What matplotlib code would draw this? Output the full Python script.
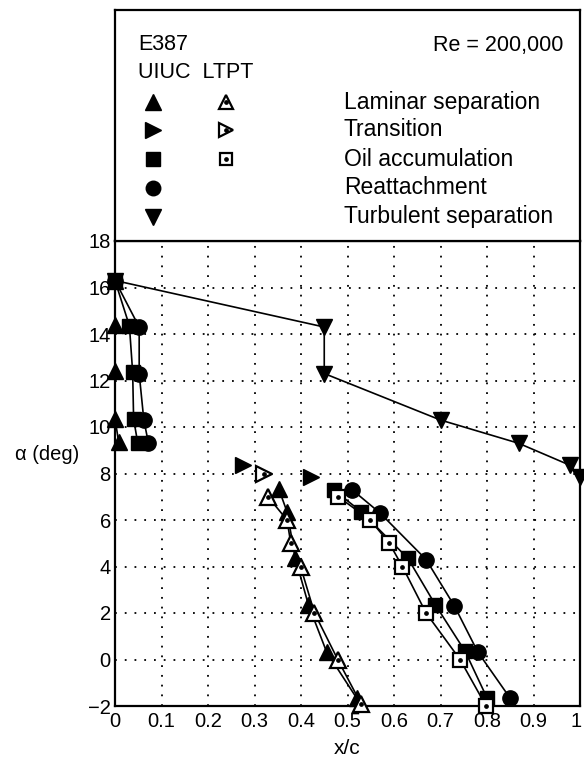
import matplotlib
matplotlib.use("Agg")
import matplotlib.pyplot as plt
import matplotlib.transforms as mtransforms

plt.rcParams["font.family"] = ["Liberation Sans", "DejaVu Sans"]
plt.rcParams["axes.unicode_minus"] = True

# UIUC (filled) and LTPT (open, dotted) measurements, x/c vs alpha
lam_uiuc_hi_x = [0.0, 0.0, 0.0, 0.0, 0.008]
lam_uiuc_hi_a = [16.3, 14.4, 12.4, 10.35, 9.35]
lam_uiuc_lo_x = [0.352, 0.370, 0.388, 0.416, 0.455, 0.520]
lam_uiuc_lo_a = [7.35, 6.35, 4.35, 2.35, 0.33, -1.67]
lam_ltpt_x = [0.329, 0.370, 0.378, 0.399, 0.429, 0.479, 0.529]
lam_ltpt_a = [7.0, 6.0, 5.0, 4.0, 2.0, 0.0, -1.9]

tr_uiuc_x = [0.275, 0.421]
tr_uiuc_a = [8.35, 7.85]
tr_ltpt_x = [0.320]
tr_ltpt_a = [8.0]

oil_uiuc_hi_x = [0.0, 0.031, 0.038, 0.040, 0.049]
oil_uiuc_hi_a = [16.3, 14.35, 12.35, 10.35, 9.3]
oil_uiuc_lo_x = [0.470, 0.530, 0.630, 0.689, 0.753, 0.800]
oil_uiuc_lo_a = [7.3, 6.35, 4.35, 2.35, 0.35, -1.65]
oil_ltpt_x = [0.480, 0.549, 0.590, 0.618, 0.669, 0.742, 0.798]
oil_ltpt_a = [7.0, 6.0, 5.0, 4.0, 2.0, 0.0, -2.0]

re_uiuc_hi_x = [0.0, 0.052, 0.052, 0.062, 0.072]
re_uiuc_hi_a = [16.3, 14.3, 12.3, 10.3, 9.3]
re_uiuc_lo_x = [0.510, 0.570, 0.669, 0.730, 0.780, 0.850]
re_uiuc_lo_a = [7.3, 6.3, 4.3, 2.3, 0.33, -1.67]

ts_uiuc_x = [0.0, 0.45, 0.45, 0.70, 0.868, 0.979, 1.0]
ts_uiuc_a = [16.3, 14.3, 12.3, 10.3, 9.3, 8.35, 7.85]

xticks = [0, 0.1, 0.2, 0.3, 0.4, 0.5, 0.6, 0.7, 0.8, 0.9, 1]
xticklabels = ["0", "0.1", "0.2", "0.3", "0.4", "0.5", "0.6", "0.7", "0.8", "0.9", "1"]
yticks = [-2, 0, 2, 4, 6, 8, 10, 12, 14, 16, 18]

legend_rows = ["Laminar separation", "Transition", "Oil accumulation",
               "Reattachment", "Turbulent separation"]

fig = plt.figure(figsize=(5.84, 7.61), dpi=100)
ax = fig.add_axes([115 / 584, 55 / 761, 465 / 584, 465 / 761])
lax = fig.add_axes([115 / 584, 520 / 761, 465 / 584, 231 / 761])

LW = 1.2


def filled(x, a, marker, ms, line=True):
    ax.plot(x, a, color="black", lw=LW if line else 0, marker=marker, ms=ms,
            mfc="black", mec="black", clip_on=False, zorder=4)


def hollow(x, a, marker, ms, line=True):
    ax.plot(x, a, color="black", lw=LW if line else 0, marker=marker, ms=ms,
            mfc="white", mec="black", mew=1.6, clip_on=False, zorder=5)
    ax.plot(x, a, lw=0, marker="o", ms=2.4, mfc="black", mec="black",
            clip_on=False, zorder=6)


filled(lam_uiuc_hi_x, lam_uiuc_hi_a, "^", 12)
filled(lam_uiuc_lo_x, lam_uiuc_lo_a, "^", 12)
filled(oil_uiuc_hi_x, oil_uiuc_hi_a, "s", 10)
filled(oil_uiuc_lo_x, oil_uiuc_lo_a, "s", 10)
filled(re_uiuc_hi_x, re_uiuc_hi_a, "o", 11)
filled(re_uiuc_lo_x, re_uiuc_lo_a, "o", 11)
filled(ts_uiuc_x, ts_uiuc_a, "v", 12)
filled(tr_uiuc_x, tr_uiuc_a, ">", 12, line=False)
hollow(lam_ltpt_x, lam_ltpt_a, "^", 12)
hollow(oil_ltpt_x, oil_ltpt_a, "s", 10)
hollow(tr_ltpt_x, tr_ltpt_a, ">", 12, line=False)

ax.set_xlim(0, 1)
ax.set_ylim(-2, 18)
ax.set_xticks(xticks)
ax.set_xticklabels(xticklabels)
ax.set_yticks(yticks)
ax.set_yticklabels([str(v).replace("-", "\u2212") for v in yticks])
ax.tick_params(length=0, labelsize=14.5, pad=4)
ax.tick_params(axis="y", pad=3)
# keep the last x label inside the canvas
last = ax.get_xticklabels()[-1]
last.set_transform(last.get_transform()
                   + mtransforms.ScaledTranslation(-4 / 100, 0, fig.dpi_scale_trans))
ax.grid(True, color="black", linestyle=(0, (1.0, 4.4)), linewidth=1.3)
for s in ax.spines.values():
    s.set_linewidth(1.6)
ax.set_xlabel("x/c", fontsize=15, labelpad=6)
fig.text(47 / 584, 1 - 455 / 761, "\u03b1 (deg)", fontsize=14.5,
         ha="center", va="center")

# legend panel, in pixel-like coordinates
lax.set_xlim(0, 465)
lax.set_ylim(231, 0)
lax.set_xticks([])
lax.set_yticks([])
for s in lax.spines.values():
    s.set_linewidth(1.6)
lax.text(23, 35, "E387", fontsize=15.5, va="center")
lax.text(448, 35, "Re = 200,000", fontsize=15.5, va="center", ha="right")
lax.text(23, 63, "UIUC  LTPT", fontsize=15.5, va="center")
row_y = [92, 120, 149, 178, 207]
mk = ["^", ">", "s", "o", "v"]
msz = [12, 12, 10, 11, 12]
for i, (lab, y) in enumerate(zip(legend_rows, row_y)):
    lax.plot([38], [y], marker=mk[i], ms=msz[i] * 0.95, color="black", lw=0)
    if i < 3:
        lax.plot([111], [y], marker=mk[i], ms=msz[i] * 0.85, mfc="white",
                 mec="black", mew=1.6, lw=0)
        lax.plot([111], [y], marker="o", ms=2.4, color="black", lw=0)
    lax.text(229, y, lab, fontsize=16.5, va="center")

fig.savefig("out.png", dpi=100)
